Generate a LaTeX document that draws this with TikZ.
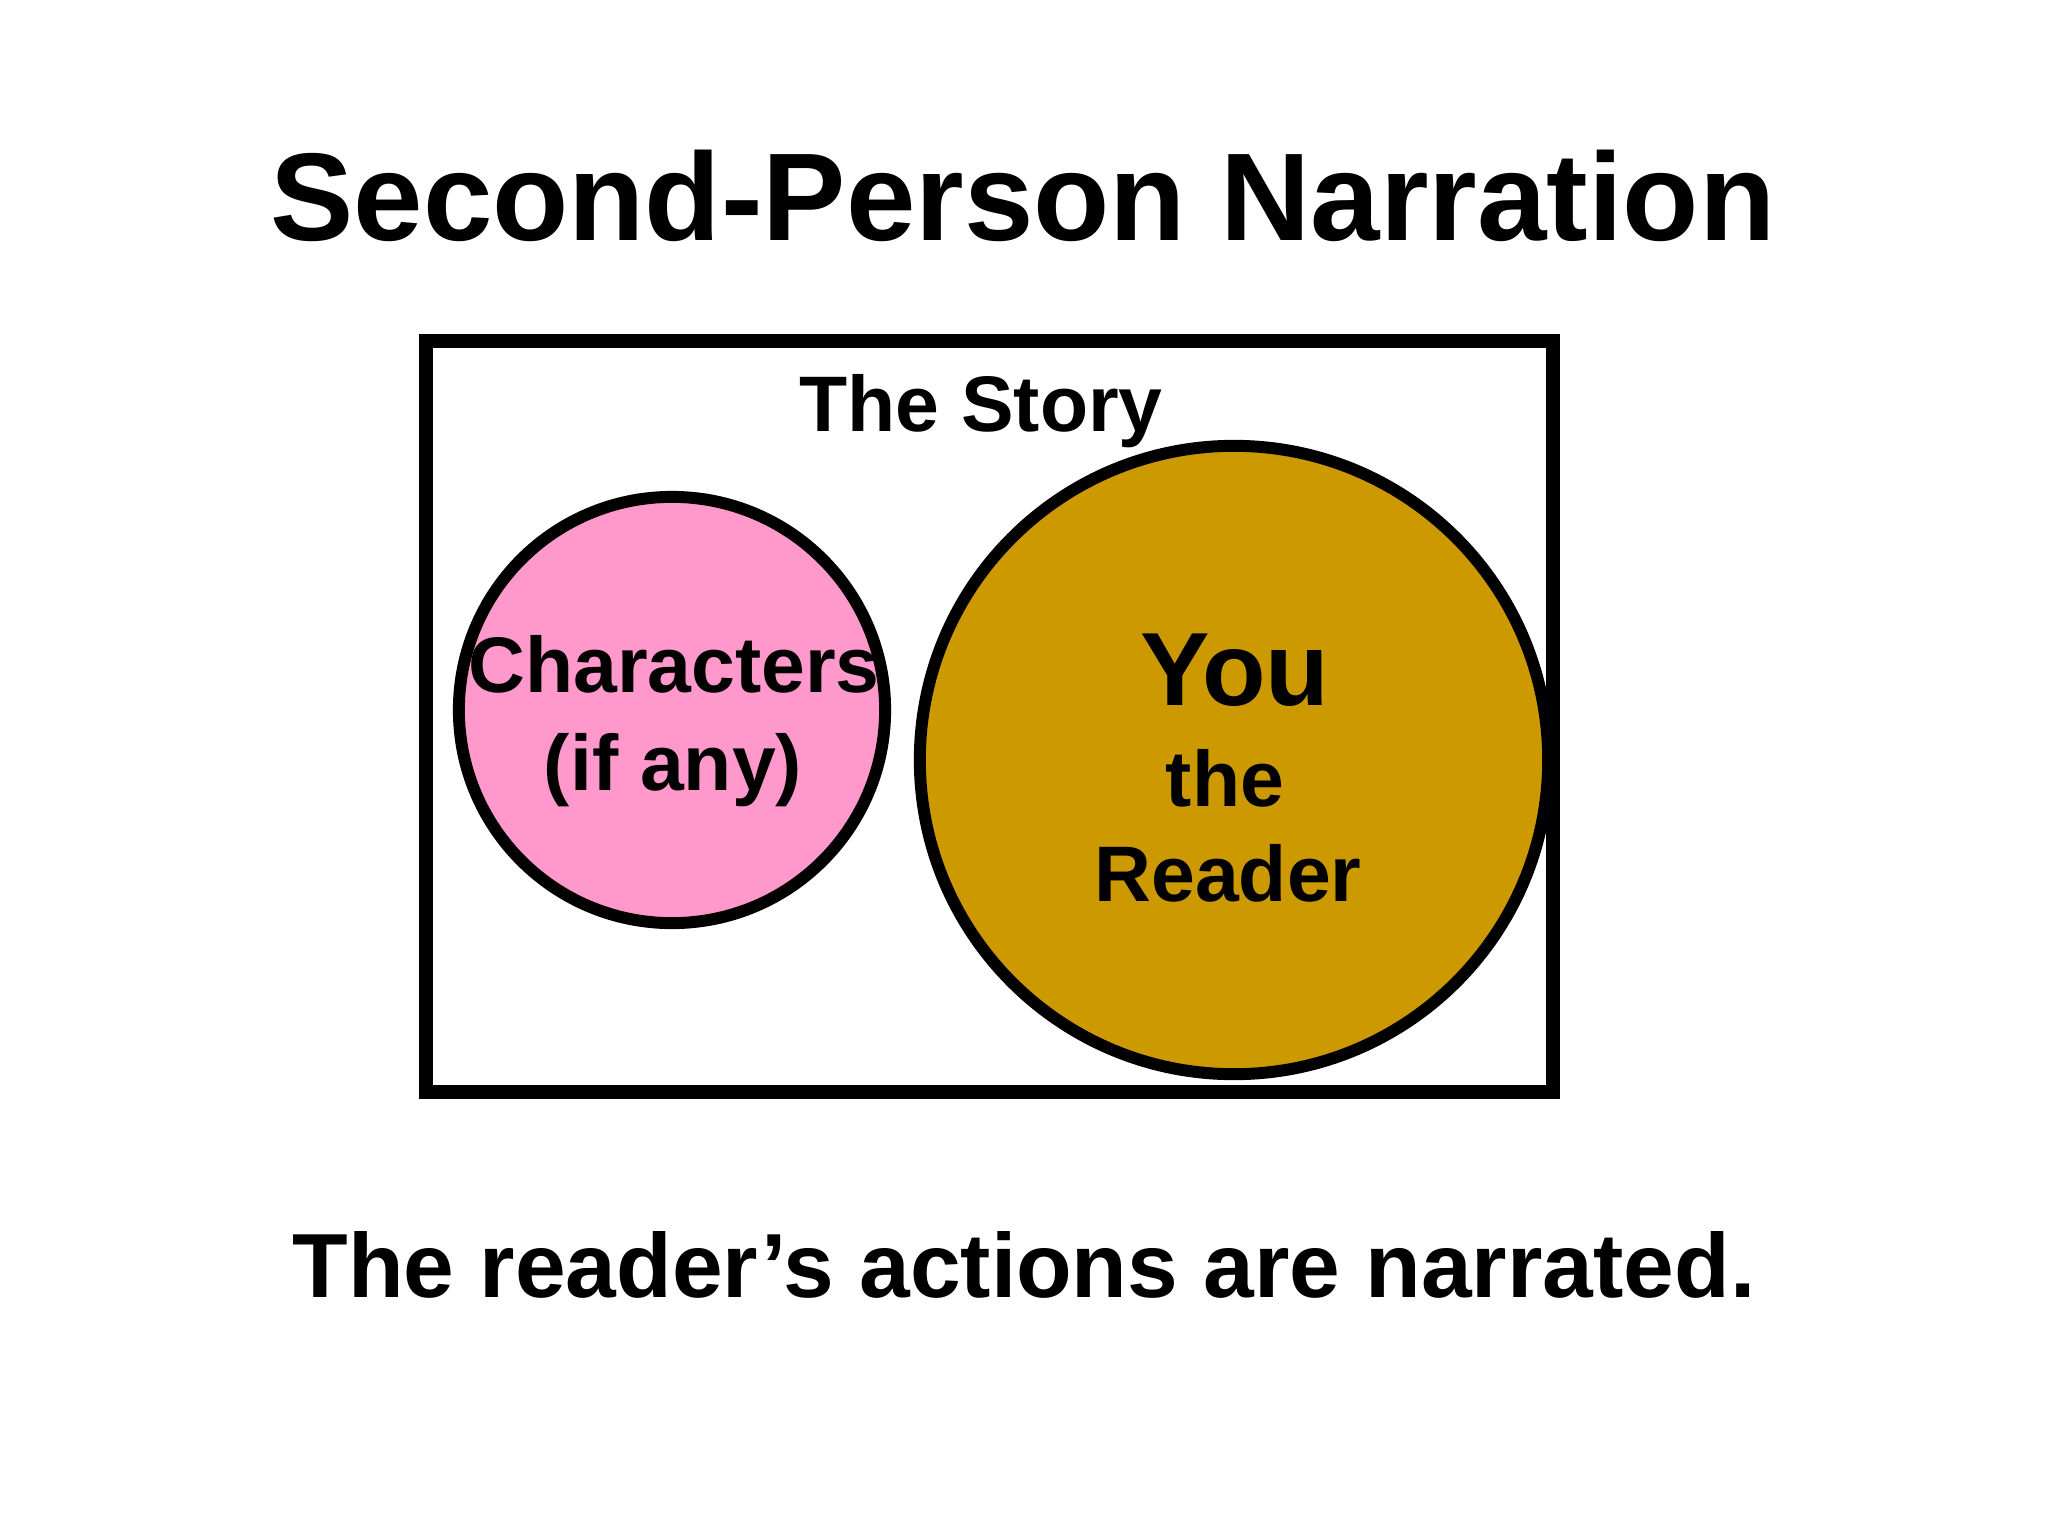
\documentclass[tikz,border=0pt]{standalone}
\usepackage{fontspec}
\setmainfont{Liberation Sans}
\definecolor{charpink}{HTML}{FF99CC}
\definecolor{readergold}{HTML}{CC9900}
\tikzset{every picture/.style={/utils/exec={\bfseries}}}
\tikzset{label text/.style={anchor=base,inner sep=0pt}}
\tikzset{bubble/.style={draw,line width=3.4pt}}

\begin{document}
\begin{tikzpicture}[x=0.01cm,y=-0.01cm]
    \useasboundingbox (0,0) rectangle (2048,1536);
    \node [label text,font=\fontsize{35.5}{40}\selectfont] (title) at (1023,240) {Second-Person Narration};
    % the story frame and the two circles
    \draw [line width=4pt] (426,341) rectangle (1553,1092);
    \draw [bubble,fill=charpink] (672,710) circle [radius=2.13cm];
    \draw [bubble,fill=readergold] (1234,760) circle [radius=3.14cm];
    \node [label text,font=\fontsize{22.4}{26}\selectfont] (story) at (981,431) {The Story};
    \node [label text,font=\fontsize{22.4}{26}\selectfont] (chars) at (674,692) {Characters};
    \node [label text,font=\fontsize{22.4}{26}\selectfont] (ifany) at (673,790) {(if any)};
    \node [label text,font=\fontsize{29.6}{32}\selectfont] (you) at (1235,705) {You};
    \node [label text,font=\fontsize{22.4}{26}\selectfont] (the) at (1225,806) {the};
    \node [label text,font=\fontsize{22.4}{26}\selectfont] (reader) at (1228,901) {Reader};
    \node [label text,font=\fontsize{25.9}{30}\selectfont] (caption) at (1024,1297) {The reader’s actions are narrated.};
\end{tikzpicture}
\end{document}
